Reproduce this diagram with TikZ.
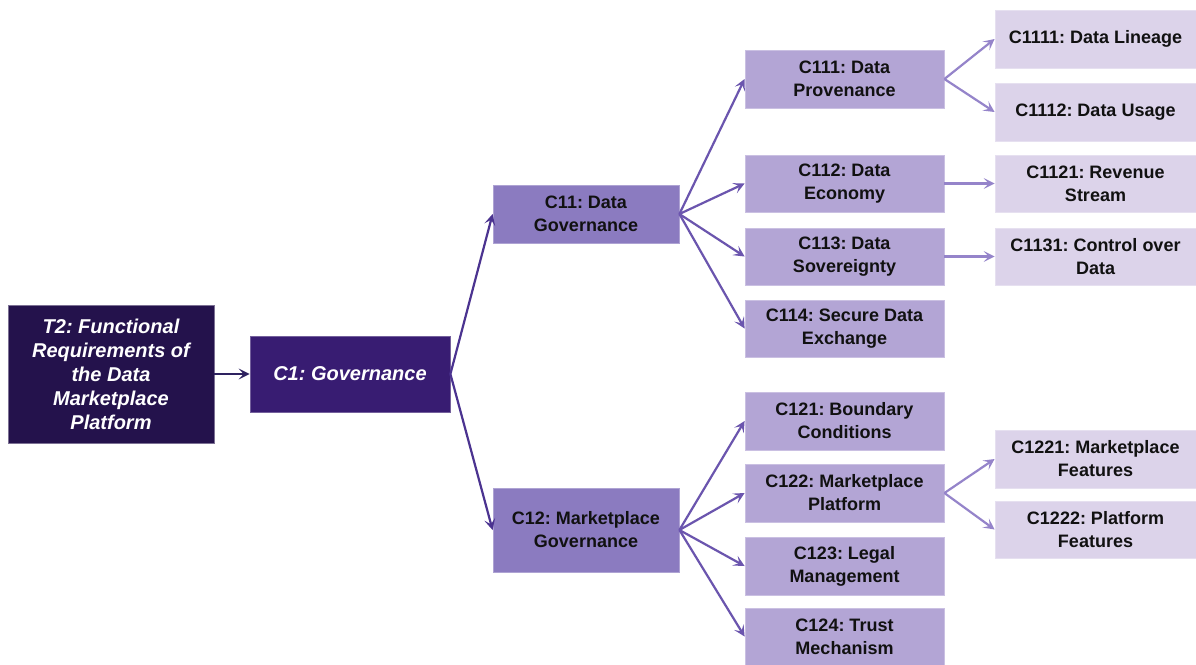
\documentclass[tikz,border=0pt]{standalone}
\usepackage{fontspec}
\setmainfont{Liberation Sans}
\usetikzlibrary{arrows.meta}
\frenchspacing

\definecolor{rootfill}{HTML}{24124C}
\definecolor{lvlonefill}{HTML}{381C72}
\definecolor{lvltwofill}{HTML}{8B7BC0}
\definecolor{lvlthreefill}{HTML}{B3A5D5}
\definecolor{leaffill}{HTML}{DCD3EA}
\definecolor{txtdark}{HTML}{111111}
\definecolor{arrroot}{HTML}{2E2260}
\definecolor{arrone}{HTML}{4B3390}
\definecolor{arrtwo}{HTML}{6B55AE}
\definecolor{arrthree}{HTML}{9584CA}

\tikzset{
  box/.style={rectangle, inner sep=0pt, align=center, line width=0.8pt},
  rootbox/.style={box, fill=rootfill, draw=rootfill!60!white, text=white,
    minimum width=206pt, minimum height=138pt,
    font=\fontsize{20}{24}\selectfont\bfseries\itshape},
  onebox/.style={box, fill=lvlonefill, draw=lvlonefill!70!white, text=white,
    minimum width=200pt, minimum height=76pt,
    font=\fontsize{20}{24}\selectfont\bfseries\itshape},
  twobox/.style={box, fill=lvltwofill, draw=lvltwofill!70!white, text=txtdark,
    minimum width=186pt, font=\fontsize{18}{23}\selectfont\bfseries},
  threebox/.style={box, fill=lvlthreefill, draw=lvlthreefill!70!white, text=txtdark,
    minimum width=199pt, minimum height=58pt, font=\fontsize{18}{23}\selectfont\bfseries},
  leafbox/.style={box, fill=leaffill, draw=leaffill!70!white, text=txtdark,
    minimum width=201pt, minimum height=58pt, font=\fontsize{18}{23}\selectfont\bfseries},
  link/.style={line width=2.2pt, -{Stealth[length=11pt,width=11pt,inset=5pt]}},
}

\begin{document}
\begin{tikzpicture}[x=1pt,y=-1pt]
  \useasboundingbox (0,0) rectangle (1196,664);
  \fill[white] (0,0) rectangle (1196,664);

  % root and first level
  \node[rootbox] (t2) at (111,374) {T2: Functional\\Requirements of\\the Data\\Marketplace\\Platform};
  \node[onebox] (c1) at (350,374) {C1: Governance};

  % second level
  \node[twobox, minimum height=58pt] (c11) at (586,214) {C11: Data\\Governance};
  \node[twobox, minimum height=84pt] (c12) at (586,530) {C12: Marketplace\\Governance};

  % third level
  \node[threebox] (c111) at (844.5,79) {C111: Data\\Provenance};
  \node[threebox, minimum height=57pt] (c112) at (844.5,183.5) {C112: Data\\Economy};
  \node[threebox, minimum height=57pt] (c113) at (844.5,256.5) {C113: Data\\Sovereignty};
  \node[threebox, minimum height=57pt] (c114) at (844.5,328.5) {C114: Secure Data\\Exchange};
  \node[threebox] (c121) at (844.5,421) {C121: Boundary\\Conditions};
  \node[threebox] (c122) at (844.5,493) {C122: Marketplace\\Platform};
  \node[threebox] (c123) at (844.5,566) {C123: Legal\\Management};
  \node[threebox, minimum height=57pt] (c124) at (844.5,636.5) {C124: Trust\\Mechanism};

  % fourth level
  \node[leafbox] (c1111) at (1095.5,39) {C1111: Data Lineage};
  \node[leafbox] (c1112) at (1095.5,112) {C1112: Data Usage};
  \node[leafbox, minimum height=57pt] (c1121) at (1095.5,183.5) {C1121: Revenue\\Stream};
  \node[leafbox, minimum height=57pt] (c1131) at (1095.5,256.5) {C1131: Control over\\Data};
  \node[leafbox] (c1221) at (1095.5,459) {C1221: Marketplace\\Features};
  \node[leafbox, minimum height=57pt] (c1222) at (1095.5,529.5) {C1222: Platform\\Features};

  % connectors
  \draw[link, arrroot] (t2.east) -- (c1.west);
  \draw[link, arrone] (c1.east) -- (c11.west);
  \draw[link, arrone] (c1.east) -- (c12.west);

  \foreach \t in {c111,c112,c113,c114}
    \draw[link, arrtwo] (c11.east) -- (\t.west);
  \foreach \t in {c121,c122,c123,c124}
    \draw[link, arrtwo] (c12.east) -- (\t.west);

  \draw[link, arrthree] (c111.east) -- (c1111.west);
  \draw[link, arrthree] (c111.east) -- (c1112.west);
  \draw[link, arrthree] (c112.east) -- (c1121.west);
  \draw[link, arrthree] (c113.east) -- (c1131.west);
  \draw[link, arrthree] (c122.east) -- (c1221.west);
  \draw[link, arrthree] (c122.east) -- (c1222.west);
\end{tikzpicture}
\end{document}
